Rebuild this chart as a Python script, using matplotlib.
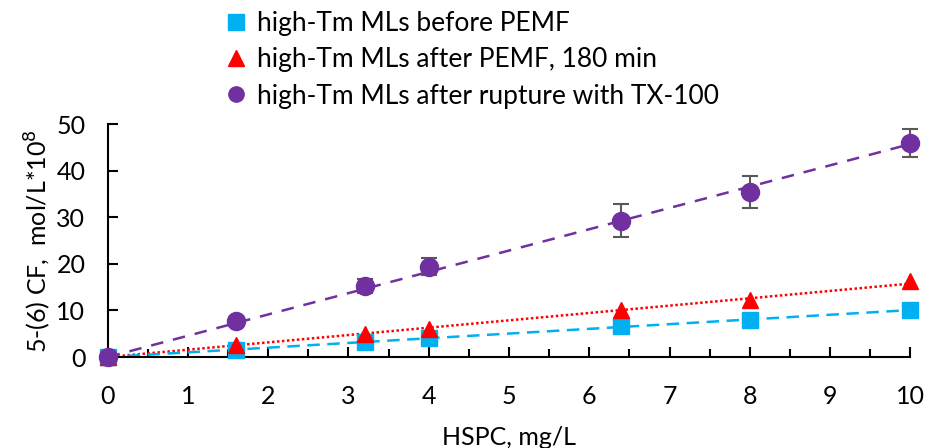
import numpy as np
import matplotlib.pyplot as plt
from matplotlib.lines import Line2D

plt.rcParams['font.family'] = ['Lato', 'DejaVu Sans']

# data
hspc = [0, 1.6, 3.2, 4, 6.4, 8, 10]
before = [0, 1.5, 3.3, 4.0, 6.7, 8.0, 10.0]
after = [0, 2.5, 5.0, 6.0, 10.0, 12.2, 16.3]
rupture = [0, 7.8, 15.3, 19.4, 29.3, 35.4, 45.9]
rupture_err = [0, 0.6, 1.5, 1.8, 3.5, 3.5, 3.0]

labels = ['high-Tm MLs before PEMF',
          'high-Tm MLs after PEMF, 180 min',
          'high-Tm MLs after rupture with TX-100']

fig = plt.figure(figsize=(9.28, 4.48), dpi=100)
ax = fig.add_axes([0.116, 0.203, 0.865, 0.52])

x = np.array(hspc)

def slope0(y):
    # trendline through origin
    y = np.array(y)
    return (x * y).sum() / (x * x).sum()

xx = np.array([0, 10])
ax.plot(xx, slope0(rupture) * xx, color='#7030a0', ls=(0, (5, 4)), lw=1.8, zorder=2)
ax.plot(xx, slope0(after) * xx, color='#ff0000', ls=(0, (1, 1)), lw=1.8, zorder=2)
ax.plot(xx, slope0(before) * xx, color='#00b0f0', ls=(0, (5, 3)), lw=1.8, zorder=2)

ax.errorbar(hspc, rupture, yerr=rupture_err, fmt='none', ecolor='#595959',
            elinewidth=1.5, capsize=6, capthick=1.5, zorder=3)
ax.plot(hspc, before, 's', color='#00b0f0', ms=12, zorder=4)
ax.plot(hspc, after, '^', color='#ff0000', ms=12, zorder=5)
ax.plot(hspc, rupture, 'o', color='#7030a0', ms=13, zorder=6)

ax.set_xlim(0, 10)
ax.set_ylim(0, 50)
ax.set_xticks(range(0, 11))
ax.set_xticks(np.arange(0.5, 10, 1), minor=True)
ax.set_yticks(range(0, 51, 10))
ax.tick_params(axis='both', direction='in', length=7, width=1.5, labelsize=18)
ax.tick_params(axis='x', pad=20)
ax.tick_params(axis='y', pad=16)
ax.tick_params(axis='x', which='minor', direction='in', length=6, width=1.5)
for side in ['top', 'right']:
    ax.spines[side].set_visible(False)
for side in ['left', 'bottom']:
    ax.spines[side].set_linewidth(1.5)
for art in ax.lines + ax.collections:
    art.set_clip_on(False)

ax.set_xlabel('HSPC, mg/L', fontsize=18)
ax.xaxis.set_label_coords(0.5, -0.295)
ax.set_ylabel('5-(6) CF,  mol/L*10$^8$', fontsize=18)
ax.yaxis.set_label_coords(-0.068, 0.5)

handles = [Line2D([], [], ls='none', marker='s', color='#00b0f0', ms=11),
           Line2D([], [], ls='none', marker='^', color='#ff0000', ms=11),
           Line2D([], [], ls='none', marker='o', color='#7030a0', ms=11)]
fig.legend(handles, labels, loc='upper left', bbox_to_anchor=(0.226, 1.01),
           frameon=False, fontsize=19, handlelength=0.8, handletextpad=0.4,
           labelspacing=0.42, borderaxespad=0.2)

fig.savefig('out.png', dpi=100)
